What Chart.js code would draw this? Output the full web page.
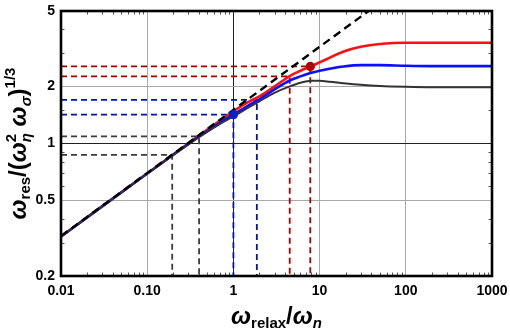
<!DOCTYPE html>
<html><head><meta charset="utf-8">
<script src="https://cdn.jsdelivr.net/npm/chart.js@4/dist/chart.umd.min.js"></script>
<style>html,body{margin:0;padding:0;background:#fff}#wrap{width:510px;height:333px;position:relative}</style>
</head><body><div id="wrap"><canvas id="c" width="510" height="333"></canvas></div>
<script>
// ---- data ----
const xTicks = [0.01, 0.1, 1, 10, 100, 1000];
const xTickLabels = ['0.01', '0.10', '1', '10', '100', '1000'];
const yTicks = [0.2, 0.5, 1, 2, 5];
const yTickLabels = ['0.2', '0.5', '1', '2', '5'];
const xMinor = [0.02,0.03,0.04,0.05,0.06,0.07,0.08,0.09,0.2,0.3,0.4,0.5,0.6,0.7,0.8,0.9,2,3,4,5,6,7,8,9,20,30,40,50,60,70,80,90,200,300,400,500,600,700,800,900];
const yMinor = [0.3,0.4,0.6,0.7,0.8,0.9,1.5,3,4];

const curveX = [0.01,0.03,0.1,0.2,0.4,0.7,1,1.5,2,3,4.5,6,8,10,13,19,30,50,100,200,1000];
const redY   = [0.323,0.466,0.695,0.875,1.10,1.32,1.48,1.66,1.77,2.00,2.27,2.42,2.56,2.68,2.83,3.06,3.24,3.35,3.40,3.40,3.40];
const blueY  = [0.323,0.466,0.694,0.872,1.09,1.29,1.42,1.59,1.71,1.93,2.15,2.26,2.36,2.42,2.48,2.55,2.59,2.59,2.57,2.56,2.56];
const grayY  = [0.323,0.466,0.692,0.868,1.08,1.27,1.39,1.55,1.67,1.85,2.00,2.09,2.14,2.14,2.12,2.08,2.04,2.01,1.99,1.98,1.98];

const asymX = [0.01, 37];
const asymY = [0.325, 5.0];

const markX = [0.195, 0.4, 1, 1.87, 4.5, 7.8];
const markY = [0.87, 1.09, 1.42, 1.70, 2.26, 2.55];
const markGroup = ['gray','gray','blue','blue','red','red'];

const dotX = [1, 7.8];
const dotY = [1.42, 2.55];
const dotGroup = ['blue','red'];

// ---- styles ----
const dashCol = {gray:'#3c3c3c', blue:'#0016a6', red:'#a30000'};
const dotCol = {blue:'#0020c8', red:'#b00000'};
const FONT = '"Liberation Sans", Arial, sans-serif';
const X0 = 0.01, X1 = 1000, Y0 = 0.2, Y1 = 5;

const pts = (xs, ys) => xs.map((x, i) => ({x, y: ys[i]}));
const datasets = [];

markX.forEach((x, i) => {
  datasets.push({
    data: [{x: X0, y: markY[i]}, {x, y: markY[i]}, {x, y: Y0}],
    borderColor: dashCol[markGroup[i]], borderWidth: 1.8, borderDash: [6, 4],
    pointRadius: 0, showLine: true, tension: 0, order: 10
  });
});
datasets.push({data: pts(curveX, redY), borderColor: '#ff1010', borderWidth: 2.6, pointRadius: 0, showLine: true, cubicInterpolationMode: 'monotone', order: 6});
datasets.push({data: pts(curveX, blueY), borderColor: '#0a10ff', borderWidth: 2.6, pointRadius: 0, showLine: true, cubicInterpolationMode: 'monotone', order: 5});
datasets.push({data: pts(curveX, grayY), borderColor: '#333333', borderWidth: 2, pointRadius: 0, showLine: true, cubicInterpolationMode: 'monotone', order: 4});
datasets.push({data: pts(asymX, asymY), borderColor: '#000', borderWidth: 2.4, borderDash: [8, 5], pointRadius: 0, showLine: true, order: 3});
dotX.forEach((x, i) => {
  datasets.push({data: [{x, y: dotY[i]}], pointRadius: 4.6, pointBackgroundColor: dotCol[dotGroup[i]], pointBorderWidth: 0, showLine: false, order: 1});
});

function gridCol(v, lo, hi) {
  if (Math.abs(Math.log10(v / lo)) < 1e-6 || Math.abs(Math.log10(v / hi)) < 1e-6) return 'rgba(0,0,0,0)';
  if (Math.abs(v - 1) < 1e-9) return '#222';
  return '#a8a8a8';
}

function drawRich(ctx, segs, x, y, angle) {
  ctx.save();
  ctx.translate(x, y);
  ctx.rotate(angle);
  ctx.fillStyle = '#000';
  ctx.textBaseline = 'alphabetic';
  ctx.textAlign = 'left';
  const ws = segs.map(s => {
    if (s.stack) return Math.max(...s.stack.map(p => { ctx.font = p.f; return ctx.measureText(p.t).width; }));
    ctx.font = s.f; return ctx.measureText(s.t).width;
  });
  const total = ws.reduce((a, b) => a + b, 0);
  let cx = -total / 2;
  segs.forEach((s, i) => {
    if (s.stack) s.stack.forEach(p => { ctx.font = p.f; ctx.fillText(p.t, cx, p.dy); });
    else { ctx.font = s.f; ctx.fillText(s.t, cx, s.dy || 0); }
    cx += ws[i];
  });
  ctx.restore();
}

const decor = {
  id: 'decor',
  afterDatasetsDraw(chart) {
    const {ctx, chartArea: a, scales: {x, y}} = chart;
    ctx.save();
    ctx.strokeStyle = '#555';
    ctx.lineWidth = 1;
    xMinor.forEach(v => {
      const px = Math.round(x.getPixelForValue(v)) + 0.5;
      ctx.beginPath(); ctx.moveTo(px, a.bottom); ctx.lineTo(px, a.bottom - 3.5);
      ctx.moveTo(px, a.top); ctx.lineTo(px, a.top + 3.5); ctx.stroke();
    });
    yMinor.forEach(v => {
      const py = Math.round(y.getPixelForValue(v)) + 0.5;
      ctx.beginPath(); ctx.moveTo(a.left, py); ctx.lineTo(a.left + 3.5, py);
      ctx.moveTo(a.right, py); ctx.lineTo(a.right - 3.5, py); ctx.stroke();
    });
    ctx.strokeStyle = '#000';
    ctx.lineWidth = 2.6;
    ctx.strokeRect(a.left, a.top, a.right - a.left, a.bottom - a.top);
    ctx.restore();
  },
  afterDraw(chart) {
    const {ctx, chartArea: a} = chart;
    const big = 'italic bold 24px ' + FONT;
    const bigU = 'bold 24px ' + FONT;
    const sub = 'bold 15px ' + FONT;
    const subI = 'italic bold 15px ' + FONT;
    drawRich(ctx, [
      {t: 'ω', f: big}, {t: 'relax', f: sub, dy: 4},
      {t: '/', f: bigU}, {t: 'ω', f: big}, {t: 'n', f: subI, dy: 4}
    ], (a.left + a.right) / 2, 324, 0);
    drawRich(ctx, [
      {t: 'ω', f: big}, {t: 'res', f: sub, dy: 4},
      {t: '/(', f: bigU}, {t: 'ω', f: big},
      {stack: [{t: '2', f: sub, dy: -10}, {t: 'η', f: subI, dy: 5}]},
      {t: ' ', f: bigU}, {t: 'ω', f: big}, {t: 'σ', f: subI, dy: 5},
      {t: ')', f: bigU}, {t: '1/3', f: sub, dy: -11}
    ], 26, (a.top + a.bottom) / 2, -Math.PI / 2);
  }
};

const noPad = s => { s.paddingTop = 0; s.paddingBottom = 0; s.paddingLeft = 0; s.paddingRight = 0; };

new Chart(document.getElementById('c'), {
  type: 'scatter',
  data: {datasets},
  plugins: [decor],
  options: {
    responsive: false, animation: false, devicePixelRatio: 1,
    layout: {padding: {top: 11, right: 18, left: 0, bottom: 0}},
    plugins: {legend: {display: false}, tooltip: {enabled: false}},
    scales: {
      x: {
        type: 'logarithmic', min: X0, max: X1,
        afterBuildTicks: s => { s.ticks = xTicks.map(v => ({value: v})); },
        afterFit: s => { s.height = 57; noPad(s); },
        ticks: {callback: (v, i) => xTickLabels[i], color: '#000', font: {family: FONT, size: 14, weight: 'bold'}, padding: 7, maxRotation: 0, autoSkip: false},
        grid: {color: c => gridCol(c.tick.value, X0, X1), lineWidth: 1, drawTicks: false},
        border: {display: false}
      },
      y: {
        type: 'logarithmic', min: Y0, max: Y1,
        afterBuildTicks: s => { s.ticks = yTicks.map(v => ({value: v})); },
        afterFit: s => { s.width = 61; noPad(s); },
        ticks: {callback: (v, i) => yTickLabels[i], color: '#000', font: {family: FONT, size: 14, weight: 'bold'}, padding: 6, autoSkip: false},
        grid: {color: c => gridCol(c.tick.value, Y0, Y1), lineWidth: 1, drawTicks: false},
        border: {display: false}
      }
    }
  }
});
</script></body></html>
